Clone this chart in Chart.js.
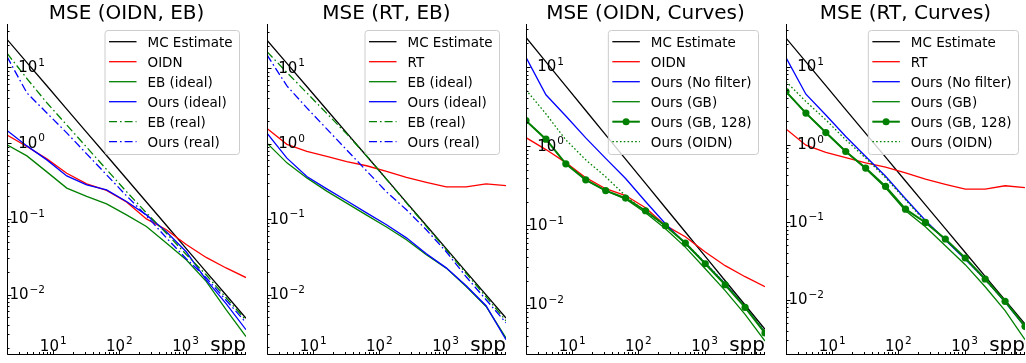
<!DOCTYPE html>
<html>
<head>
<meta charset="utf-8">
<script src="https://cdn.jsdelivr.net/npm/chart.js@4.4.0/dist/chart.umd.min.js"></script>
<style>
  html, body { margin: 0; padding: 0; background: #fff; overflow: hidden; }
  #wrap { position: relative; width: 1026px; height: 363px; }
  .panel { position: absolute; top: 0; width: 255px; height: 363px; }
</style>
</head>
<body>
<div id="wrap"></div>
<script>
// samples per pixel (x axis)
const spp = [2, 4, 8, 16, 32, 64, 128, 256, 512, 1024, 2048, 4096, 8192];

// shared curves
const mcEstimate = [23.5, 11.6, 5.73, 2.82, 1.39, 0.687, 0.339, 0.167, 0.0824, 0.0406, 0.0200, 0.00989, 0.00488];
const oidn = [1.28, 0.905, 0.62, 0.40, 0.29, 0.238, 0.167, 0.10, 0.072, 0.046, 0.031, 0.0225, 0.0168];
const rt = [1.59, 0.98, 0.79, 0.68, 0.58, 0.51, 0.43, 0.357, 0.307, 0.267, 0.267, 0.294, 0.278];
const oursNoFilter = [13.2, 4.45, 2.4, 1.27, 0.70, 0.39, 0.20, 0.105, 0.059, 0.0333, 0.0183, 0.0093, 0.00446];

// MSE (OIDN, EB)
const ebIdealOidn = [0.950, 0.680, 0.418, 0.255, 0.198, 0.158, 0.113, 0.0794, 0.0480, 0.0289, 0.0150, 0.00632, 0.00279];
const oursIdealOidn = [1.475, 0.921, 0.602, 0.370, 0.282, 0.242, 0.170, 0.113, 0.0676, 0.0368, 0.0157, 0.00759, 0.00344];
const ebRealOidn = [15.4, 7.14, 3.42, 1.738, 0.883, 0.449, 0.229, 0.120, 0.0646, 0.0339, 0.0183, 0.0091, 0.00459];
const oursRealOidn = [13.9, 4.61, 2.51, 1.368, 0.723, 0.382, 0.202, 0.110, 0.0563, 0.0298, 0.0167, 0.00844, 0.00426];

// MSE (RT, EB)
const ebIdealRt = [1.015, 0.557, 0.352, 0.235, 0.163, 0.113, 0.0786, 0.0532, 0.0337, 0.0224, 0.0128, 0.00696, 0.00265];
const oursIdealRt = [1.377, 0.643, 0.367, 0.252, 0.175, 0.121, 0.0841, 0.0565, 0.0347, 0.0226, 0.0131, 0.00711, 0.00252];
const ebRealRt = [16.6, 8.79, 4.71, 2.52, 1.349, 0.689, 0.337, 0.164, 0.0803, 0.0392, 0.0191, 0.00935, 0.00450];
const oursRealRt = [15.0, 5.83, 2.98, 1.57, 0.828, 0.436, 0.230, 0.133, 0.0722, 0.0369, 0.0172, 0.00853, 0.00423];

// MSE (OIDN, Curves)
const oursGbOidn = [2.10, 1.225, 0.598, 0.376, 0.275, 0.215, 0.144, 0.0907, 0.0532, 0.0284, 0.0150, 0.00752, 0.00347];
const oursGb128Oidn = [2.10, 1.225, 0.598, 0.376, 0.275, 0.221, 0.153, 0.0989, 0.0598, 0.0328, 0.0178, 0.00922, 0.00438];
const oursOidnOidn = [5.13, 2.56, 1.20, 0.672, 0.410, 0.236, 0.148, 0.0989, 0.0603, 0.0338, 0.0184, 0.00941, 0.00455];

// MSE (RT, Curves)
const oursGbRt = [4.81, 2.54, 1.427, 0.813, 0.487, 0.277, 0.140, 0.0873, 0.0497, 0.0283, 0.0147, 0.00724, 0.00306];
const oursGb128Rt = [4.81, 2.54, 1.427, 0.813, 0.497, 0.288, 0.147, 0.0991, 0.0606, 0.0345, 0.0185, 0.00953, 0.00455];
const oursOidnRt = [6.47, 3.58, 2.08, 1.149, 0.668, 0.373, 0.194, 0.101, 0.0593, 0.0338, 0.0181, 0.00946, 0.00451];

const titles = ['MSE (OIDN, EB)', 'MSE (RT, EB)', 'MSE (OIDN, Curves)', 'MSE (RT, Curves)'];
const yLimits = [[0.001644, 37.5], [0.00163, 38.6], [0.00238, 34.8], [0.0020, 35.7]];
const xTicks = [10, 100, 1000];
const yTicks = [[10, '1'], [1, '0'], [0.1, '\u22121'], [0.01, '\u22122']];

const FONT = '"DejaVu Sans", "Liberation Sans", sans-serif';
const plotLefts = [7, 267, 526, 786];
const PLOT_W = 239;

// line styles
const solid = (color) => ({ color, dash: [], width: 1.3 });
const dashdot = (color) => ({ color, dash: [8, 3, 1.6, 3], width: 1.3 });
const dotted = (color) => ({ color, dash: [1.6, 2.2], width: 1.3 });
const marked = (color) => ({ color, dash: [], width: 2, marker: true });

const panels = [
  [
    ['MC Estimate', mcEstimate, solid('#000000')],
    ['OIDN', oidn, solid('#ff0000')],
    ['EB (ideal)', ebIdealOidn, solid('#008000')],
    ['Ours (ideal)', oursIdealOidn, solid('#0000ff')],
    ['EB (real)', ebRealOidn, dashdot('#008000')],
    ['Ours (real)', oursRealOidn, dashdot('#0000ff')]
  ],
  [
    ['MC Estimate', mcEstimate, solid('#000000')],
    ['RT', rt, solid('#ff0000')],
    ['EB (ideal)', ebIdealRt, solid('#008000')],
    ['Ours (ideal)', oursIdealRt, solid('#0000ff')],
    ['EB (real)', ebRealRt, dashdot('#008000')],
    ['Ours (real)', oursRealRt, dashdot('#0000ff')]
  ],
  [
    ['MC Estimate', mcEstimate, solid('#000000')],
    ['OIDN', oidn, solid('#ff0000')],
    ['Ours (No filter)', oursNoFilter, solid('#0000ff')],
    ['Ours (GB)', oursGbOidn, solid('#008000')],
    ['Ours (GB, 128)', oursGb128Oidn, marked('#008000')],
    ['Ours (OIDN)', oursOidnOidn, dotted('#008000')]
  ],
  [
    ['MC Estimate', mcEstimate, solid('#000000')],
    ['RT', rt, solid('#ff0000')],
    ['Ours (No filter)', oursNoFilter, solid('#0000ff')],
    ['Ours (GB)', oursGbRt, solid('#008000')],
    ['Ours (GB, 128)', oursGb128Rt, marked('#008000')],
    ['Ours (OIDN)', oursOidnRt, dotted('#008000')]
  ]
];

// 10^n drawn like matplotlib mathtext
function drawPow(ctx, exp, x, y, align, size) {
  ctx.font = size + 'px ' + FONT;
  const wb = ctx.measureText('10').width;
  const es = size * 0.7;
  ctx.font = es + 'px ' + FONT;
  const we = ctx.measureText(exp).width;
  const total = wb + 1 + we;
  const x0 = align === 'right' ? x - total : align === 'center' ? x - total / 2 : x;
  ctx.textAlign = 'left';
  ctx.font = size + 'px ' + FONT;
  ctx.fillText('10', x0, y);
  ctx.font = es + 'px ' + FONT;
  ctx.fillText(exp, x0 + wb + 1, y - size * 0.42);
}

const mplAxes = {
  id: 'mplAxes',
  afterDatasetsDraw(chart, args, opts) {
    const { ctx, chartArea: a, scales: { x, y } } = chart;
    ctx.save();
    ctx.fillStyle = '#000';
    ctx.strokeStyle = '#000';
    ctx.lineWidth = 1;

    // spines (left + bottom only)
    ctx.beginPath();
    ctx.moveTo(a.left + 0.5, a.top);
    ctx.lineTo(a.left + 0.5, a.bottom + 0.5);
    ctx.lineTo(a.right, a.bottom + 0.5);
    ctx.stroke();

    // ticks pointing inwards, log minor ticks
    ctx.beginPath();
    for (let e = -4; e <= 3; e++) {
      for (let m = 1; m <= 9; m++) {
        const v = m * Math.pow(10, e);
        const len = m === 1 ? 4 : 2;
        if (v >= y.min && v <= y.max) {
          const py = Math.round(y.getPixelForValue(v)) + 0.5;
          ctx.moveTo(a.left, py);
          ctx.lineTo(a.left + 0.5 + len, py);
        }
        if (v >= x.min && v <= x.max) {
          const px = Math.round(x.getPixelForValue(v)) + 0.5;
          ctx.moveTo(px, a.bottom + 0.5);
          ctx.lineTo(px, a.bottom - len);
        }
      }
    }
    ctx.stroke();

    // tick labels inside the axes
    ctx.textBaseline = 'alphabetic';
    yTicks.forEach(([v, e]) => {
      const py = y.getPixelForValue(v);
      drawPow(ctx, e, a.left + 38, py + 4.5, 'right', 15);
    });
    xTicks.forEach((v, i) => {
      const px = x.getPixelForValue(v);
      drawPow(ctx, String(i + 1), px, a.bottom - 3.5, 'center', 15);
    });

    // x label
    ctx.font = '20px ' + FONT;
    ctx.textAlign = 'right';
    ctx.fillText('spp', a.right, a.bottom - 3.5);

    // title
    ctx.textAlign = 'center';
    ctx.fillText(opts.title, (a.left + a.right) / 2, 18.5);

    // legend, upper right
    const items = opts.items;
    ctx.font = '13.5px ' + FONT;
    const maxW = Math.max(...items.map(it => ctx.measureText(it[0]).width));
    const bw = 43 + maxW + 6.5;
    const bh = items.length * 20 + 4;
    const bx = a.right - 7 - bw;
    const by = a.top + 6;
    ctx.beginPath();
    ctx.roundRect(bx + 0.5, by + 0.5, bw, bh, 3);
    ctx.fillStyle = 'rgba(255,255,255,0.8)';
    ctx.fill();
    ctx.strokeStyle = '#cccccc';
    ctx.stroke();

    items.forEach(([label, , st], i) => {
      const cy = by + 11.7 + i * 20;
      ctx.strokeStyle = st.color;
      ctx.lineWidth = st.width;
      ctx.setLineDash(st.dash);
      ctx.beginPath();
      ctx.moveTo(bx + 4.5, cy);
      ctx.lineTo(bx + 32, cy);
      ctx.stroke();
      ctx.setLineDash([]);
      if (st.marker) {
        ctx.fillStyle = st.color;
        ctx.beginPath();
        ctx.arc(bx + 18.25, cy, 3.5, 0, Math.PI * 2);
        ctx.fill();
      }
      ctx.fillStyle = '#000';
      ctx.textAlign = 'left';
      ctx.font = '13.5px ' + FONT;
      ctx.fillText(label, bx + 43, cy + 5);
    });
    ctx.restore();
  }
};

const wrap = document.getElementById('wrap');
panels.forEach((items, p) => {
  const div = document.createElement('div');
  div.className = 'panel';
  div.style.left = (plotLefts[p] - 7) + 'px';
  const canvas = document.createElement('canvas');
  div.appendChild(canvas);
  wrap.appendChild(div);

  const datasets = items.map(([label, values, st], i) => ({
    label,
    data: spp.map((s, j) => ({ x: s, y: values[j] })),
    borderColor: st.color,
    backgroundColor: st.color,
    borderWidth: st.width,
    borderDash: st.dash,
    pointRadius: st.marker ? 3.6 : 0,
    pointBorderWidth: 0,
    pointBackgroundColor: st.color,
    tension: 0,
    fill: false,
    order: items.length - i
  }));

  new Chart(canvas, {
    type: 'line',
    data: { datasets },
    options: {
      responsive: true,
      maintainAspectRatio: false,
      animation: false,
      layout: { padding: { left: 7, right: 255 - 7 - PLOT_W, top: 24, bottom: 9 } },
      plugins: {
        legend: { display: false },
        tooltip: { enabled: false },
        mplAxes: { title: titles[p], items }
      },
      scales: {
        x: { type: 'logarithmic', min: 2, max: 8192, display: false },
        y: { type: 'logarithmic', min: yLimits[p][0], max: yLimits[p][1], display: false }
      }
    },
    plugins: [mplAxes]
  });
});
</script>
</body>
</html>
